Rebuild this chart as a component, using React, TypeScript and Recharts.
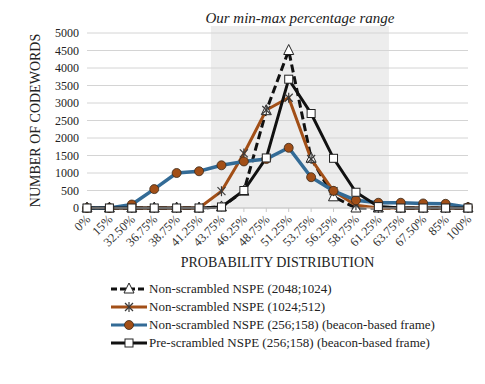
import React from 'react';
import { LineChart, Line, XAxis, YAxis, CartesianGrid, ReferenceArea, Legend } from 'recharts';

const categories = ['0%', '15%', '32.50%', '36.75%', '38.75%', '41.25%', '43.75%', '46.25%', '48.75%', '51.25%', '53.75%', '56.25%', '58.75%', '61.25%', '63.75%', '67.50%', '85%', '100%'];
const ns2048 = [0, 0, 0, 0, 0, 0, 30, 480, 2780, 4500, 1420, 320, 0, 0, 0, 0, 0, 0];
const ns1024 = [0, 0, 0, 0, 0, 0, 480, 1560, 2800, 3150, 1400, 480, 80, 0, 0, 0, 0, 0];
const ns256 = [0, 0, 100, 540, 1000, 1050, 1220, 1330, 1400, 1720, 880, 490, 220, 150, 150, 130, 120, 20];
const pre256 = [0, 0, 0, 0, 0, 0, 30, 500, 1430, 3680, 2700, 1420, 450, 40, 0, 0, 0, 0];
const yTicks = [0, 500, 1000, 1500, 2000, 2500, 3000, 3500, 4000, 4500, 5000];
const names = [
  'Non-scrambled NSPE (2048;1024)',
  'Non-scrambled NSPE (1024;512)',
  'Non-scrambled NSPE (256;158) (beacon-based frame)',
  'Pre-scrambled NSPE (256;158) (beacon-based frame)',
];

const data = categories.map((c, i) => ({ cat: c, a: ns2048[i], b: ns1024[i], c: ns256[i], d: pre256[i] }));

const W = 485;
const H = 384;
const M = { top: 33, right: 17, left: 0, bottom: 0 };
const YW = 87;
const HALF_BAND = (W - M.right - M.left - YW) / categories.length / 2;

const FONT = 'Liberation Serif';
const BLUE = '#336b96';
const BROWN = '#a24f17';

const Tri = ({ cx, cy }: any) => (
  <polygon points={`${cx},${cy - 6} ${cx + 5},${cy + 4} ${cx - 5},${cy + 4}`} fill="#fff" stroke="#222" strokeWidth={1} />
);
const Star = ({ cx, cy }: any) => (
  <g stroke="#3a3a3a" strokeWidth={1.2}>
    <line x1={cx - 4} y1={cy - 4} x2={cx + 4} y2={cy + 4} />
    <line x1={cx - 4} y1={cy + 4} x2={cx + 4} y2={cy - 4} />
    <line x1={cx} y1={cy - 5} x2={cx} y2={cy + 5} />
  </g>
);
const Circ = ({ cx, cy }: any) => <circle cx={cx} cy={cy} r={4.5} fill={BROWN} stroke="#3a2a1a" strokeWidth={0.8} />;
const Sq = ({ cx, cy }: any) => <rect x={cx - 4} y={cy - 4} width={8} height={8} fill="#fff" stroke="#222" strokeWidth={1} />;

const dotFn = (Comp: any) => (p: any) => <Comp key={`d${p.index}`} cx={p.cx} cy={p.cy} />;

const XTick = ({ x, y, payload }: any) => (
  <text x={x + 4} y={y + 6} transform={`rotate(-45, ${x + 4}, ${y + 6})`} textAnchor="end" fontFamily={FONT} fontSize={12.5} fill="#333">
    {payload.value}
  </text>
);

const ShadeShape = (p: any) => (
  <rect x={p.x - HALF_BAND} y={p.y} width={p.width + 2 * HALF_BAND} height={p.height} fill="#d6d6d6" fillOpacity={0.45} stroke="none" />
);

const LegendContent = () => {
  const rows = [
    { color: '#111', dash: '6 3', mark: 'tri' },
    { color: BROWN, dash: undefined, mark: 'star' },
    { color: BLUE, dash: undefined, mark: 'circ' },
    { color: '#111', dash: undefined, mark: 'sq' },
  ];
  return (
    <div style={{ height: 80, width: 360, fontFamily: FONT, fontSize: 13, color: '#222' }}>
      {rows.map((r, i) => (
        <div key={i} style={{ display: 'flex', alignItems: 'center', height: 18 }}>
          <svg width={39} height={18} style={{ display: 'block' }}>
            <line x1={1} y1={9} x2={37} y2={9} stroke={r.color} strokeWidth={3} strokeDasharray={r.dash} />
            {r.mark === 'tri' && <Tri cx={19} cy={9} />}
            {r.mark === 'star' && <Star cx={19} cy={9} />}
            {r.mark === 'circ' && <Circ cx={19} cy={9} />}
            {r.mark === 'sq' && <Sq cx={19} cy={9} />}
          </svg>
          <span style={{ whiteSpace: 'nowrap' }}>{names[i]}</span>
        </div>
      ))}
    </div>
  );
};

export default function App() {
  return (
    <div style={{ position: 'absolute', left: 0, top: 0, width: W, height: H, background: '#fff' }}>
      <LineChart width={W} height={H} data={data} margin={M}>
        <CartesianGrid vertical={false} stroke="#d4d4d4" strokeWidth={1} />
        <ReferenceArea
          x1="43.75%"
          x2="61.25%"
          y1={0}
          y2={5200}
          ifOverflow="visible"
          shape={ShadeShape}
          label={{ value: 'Our min-max percentage range', position: 'top', offset: 3, fontFamily: FONT, fontSize: 15, fontStyle: 'italic', fill: '#222' }}
        />
        <XAxis
          dataKey="cat"
          interval={0}
          height={96}
          tick={<XTick />}
          axisLine={{ stroke: '#c8c8c8' }}
          tickLine={{ stroke: '#c8c8c8' }}
          tickSize={4}
          label={{ value: 'PROBABILITY DISTRIBUTION', position: 'insideBottom', offset: 37, fontFamily: FONT, fontSize: 14, fill: '#222' }}
        />
        <YAxis
          width={YW}
          domain={[0, 5000]}
          ticks={yTicks}
          interval={0}
          axisLine={false}
          tickLine={false}
          tick={{ fontFamily: FONT, fontSize: 12, fill: '#222' }}
          label={{ value: 'NUMBER OF CODEWORDS', angle: -90, position: 'insideLeft', offset: 35, fontFamily: FONT, fontSize: 14, fill: '#222', style: { textAnchor: 'middle' } }}
        />
        <Legend verticalAlign="bottom" content={<LegendContent />} wrapperStyle={{ position: 'absolute', left: 110, top: 280, bottom: 'auto', width: 360 }} />
        <Line name={names[0]} dataKey="a" stroke="#111" strokeWidth={3} strokeDasharray="8 4" dot={dotFn(Tri)} isAnimationActive={false} />
        <Line name={names[1]} dataKey="b" stroke={BROWN} strokeWidth={3} dot={dotFn(Star)} isAnimationActive={false} />
        <Line name={names[2]} dataKey="c" stroke={BLUE} strokeWidth={3.5} dot={dotFn(Circ)} isAnimationActive={false} />
        <Line name={names[3]} dataKey="d" stroke="#111" strokeWidth={3} dot={dotFn(Sq)} isAnimationActive={false} />
      </LineChart>
    </div>
  );
}
